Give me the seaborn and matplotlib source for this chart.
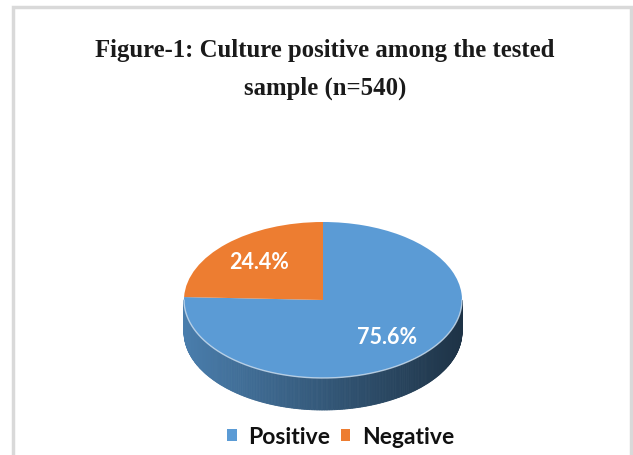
import numpy as np
import matplotlib
matplotlib.use("Agg")
import matplotlib.pyplot as plt
import seaborn as sns
from matplotlib.patches import Polygon, Rectangle, Patch
from matplotlib.colors import to_rgb

# ---- data ----
categories = ["Positive", "Negative"]
values = [75.6, 24.4]
colors = ["#5b9bd5", "#ed7d31"]
title_lines = ["Figure-1: Culture positive among the tested", "sample (n=540)"]

sns.set_theme(style="white")
plt.rcParams["font.family"] = ["Lato", "DejaVu Sans"]

W, H = 633, 455
fig = plt.figure(figsize=(W / 100, H / 100), dpi=100)
ax = fig.add_axes([0, 0, 1, 1])

# layout in pixels (centre of pie, semi-axes, depth)
cx, cy_top = 323, 300
a, b, depth = 139, 78, 32
cy = H - cy_top

wedges, texts, autotexts = ax.pie(
    values, colors=colors, startangle=90, counterclock=False, radius=1,
    autopct="%1.1f%%", pctdistance=0.66,
    wedgeprops=dict(linewidth=0, zorder=2),
    textprops=dict(color="white", fontsize=15.5, fontweight="bold"),
)
for t in autotexts:
    t.set_zorder(5)

# side wall (3D effect) from the wedge angles
d = depth / b
total = sum(values)
cum = np.concatenate([[0], np.cumsum(values)]) / total
for i, col in enumerate(colors):
    th0 = 90 - 360 * cum[i]
    th1 = 90 - 360 * cum[i + 1]
    ts = np.linspace(th1, th0, 400)
    base = np.array(to_rgb(col))
    for t0, t1 in zip(ts[:-1], ts[1:]):
        tm = np.deg2rad((t0 + t1) / 2)
        if np.sin(tm) >= 0.002:
            continue
        r0, r1 = np.deg2rad(t0), np.deg2rad(t1)
        pts = [(np.cos(r0), np.sin(r0)), (np.cos(r1), np.sin(r1)),
               (np.cos(r1), np.sin(r1) - d), (np.cos(r0), np.sin(r0) - d)]
        f = 0.57 - 0.24 * np.cos(tm)
        c = np.clip(base * f, 0, 1)
        ax.add_patch(Polygon(pts, closed=True, facecolor=c, edgecolor=c,
                             linewidth=0.6, zorder=1))

# subtle highlight on the front rim
tt = np.deg2rad(np.linspace(180, 360, 300))
ax.plot(np.cos(tt), np.sin(tt), color="#cfe0f0", lw=1.0, zorder=3, alpha=0.8)

ax.set_aspect("auto")
ax.set_xlim(-cx / a, (W - cx) / a)
ax.set_ylim(-cy / b, (H - cy) / b)
ax.axis("off")

# title
for k, line in enumerate(title_lines):
    fig.text(0.513, 1 - (50 + 38 * k) / H, line, ha="center", va="center",
             fontsize=17.8, fontweight="bold", family=["Liberation Serif"],
             color="#1a1a1a")

# outer frame
fig.add_artist(Rectangle((13 / W, -0.1), (631 - 13) / W, 0.1 + 1 - 7 / H,
                         transform=fig.transFigure, fill=False,
                         edgecolor="#d9d9d9", linewidth=2.5))

# legend
handles = [Patch(facecolor=c, edgecolor="none") for c in colors]
leg = fig.legend(handles, categories, loc="center", bbox_to_anchor=(0.538, 1 - 437 / H),
                 ncol=2, frameon=False, handlelength=0.42, handleheight=0.42,
                 handletextpad=0.5, columnspacing=0.45,
                 prop=dict(family="Lato", weight="bold", size=16.5))
for t in leg.get_texts():
    t.set_color("#111111")

fig.savefig("out.png", dpi=100)
